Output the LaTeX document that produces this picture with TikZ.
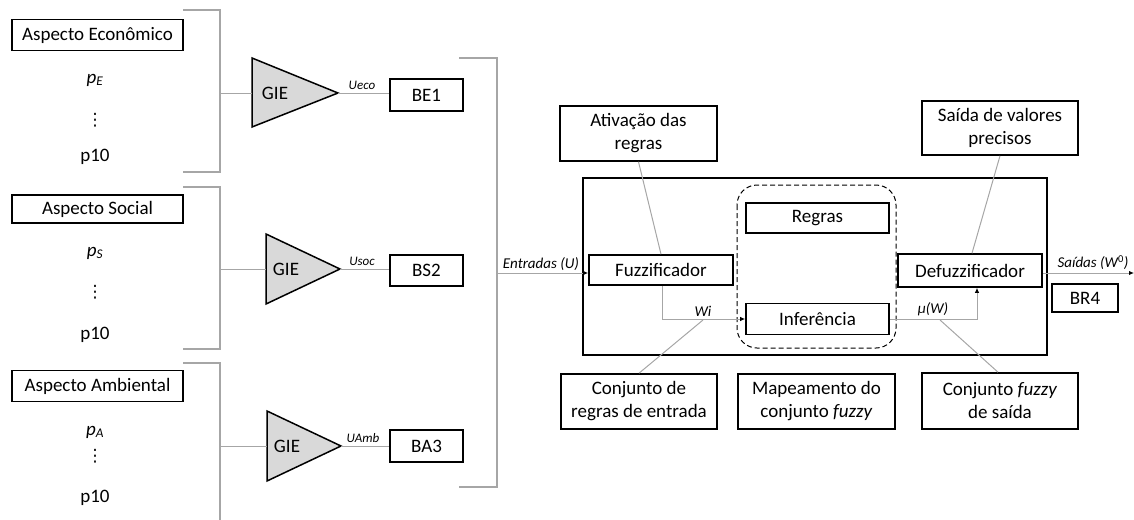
\documentclass[tikz,border=0pt]{standalone}
\usepackage{fontspec}
\setmainfont{Carlito}
\newfontfamily\dejavu{DejaVu Sans}
\usetikzlibrary{arrows.meta}
\definecolor{lg}{HTML}{A6A6A6}
\definecolor{trifill}{HTML}{D9D9D9}
\begin{document}
\begin{tikzpicture}[x=1pt,y=-1pt,
  box/.style={draw=black,line width=1.6pt,inner sep=0pt,align=center,font=\fontsize{19}{23}\selectfont},
  plain/.style={inner sep=0pt,font=\fontsize{19}{23}\selectfont},
  vdts/.style={inner sep=0pt,font=\dejavu\fontsize{17}{17}\selectfont},
  lbl/.style={inner sep=1pt,font=\fontsize{15}{17}\selectfont\itshape},
  slbl/.style={inner sep=1pt,font=\fontsize{13}{15}\selectfont\itshape},
  conn/.style={draw=lg,line width=1pt},
  brk/.style={draw=lg,line width=1.3pt},
  arr/.style={conn,-{Latex[length=5pt,width=4.5pt,color=black]}},
  gie/.style={draw=black,fill=trifill,line width=1.5pt,line join=miter}
]
\useasboundingbox (0,0) rectangle (1134,519);

% ---------- Group E ----------
\node[box,minimum width=171pt,minimum height=31pt] (aspE) at (97.5,35) {Aspecto Econômico};
\node[plain] (pE) at (95,80) {\itshape p\textsubscript{\itshape E}};
\node[vdts] (dE) at (95,120) {⋮};
\node[plain] (p10E) at (95,157) {p10};
\draw[brk] (183,10) -- (220,10) -- (220,172) -- (183,172);
\coordinate (b1) at (220,93);
\draw[gie] (252,58) -- (338,93) coordinate (t1o) -- (252,127) -- cycle;
\coordinate (t1i) at (252,93);
\node[plain] (gie1) at (275,93) {GIE};
\node[box,minimum width=73pt,minimum height=32pt] (be1) at (426.5,95) {BE1};
\draw[conn] (b1) -- (t1i);
\draw[conn] (t1o) -- (t1o -| be1.west);
\node[slbl] (ueco) at (362,85) {Ueco};

% ---------- Group S ----------
\node[box,minimum width=171pt,minimum height=28pt] (aspS) at (97.5,209) {Aspecto Social};
\node[plain] (pS) at (95,253) {\itshape p\textsubscript{\itshape S}};
\node[vdts] (dS) at (95,292) {⋮};
\node[plain] (p10S) at (95,335) {p10};
\draw[brk] (183,187) -- (220,187) -- (220,349) -- (183,349);
\coordinate (b2) at (220,269);
\draw[gie] (266,234) -- (340,269) coordinate (t2o) -- (266,304) -- cycle;
\coordinate (t2i) at (266,269);
\node[plain] (gie2) at (286,269) {GIE};
\node[box,minimum width=73pt,minimum height=31pt] (bs2) at (426.5,270.5) {BS2};
\draw[conn] (b2) -- (t2i);
\draw[conn] (t2o) -- (t2o -| bs2.west);
\node[slbl] (usoc) at (362,261) {Usoc};

% ---------- Group A ----------
\node[box,minimum width=171pt,minimum height=31pt] (aspA) at (97.5,386) {Aspecto Ambiental};
\node[plain] (pA) at (95,432) {\itshape p\textsubscript{\itshape A}};
\node[vdts] (dA) at (95,456) {⋮};
\node[plain] (p10A) at (95,498) {p10};
\draw[brk] (183,363) -- (220,363) -- (220,520);
\coordinate (b3) at (220,446);
\draw[gie] (267,411) -- (341,446) coordinate (t3o) -- (267,481) -- cycle;
\coordinate (t3i) at (267,446);
\node[plain] (gie3) at (287,446) {GIE};
\node[box,minimum width=73pt,minimum height=32pt] (ba3) at (426.5,446) {BA3};
\draw[conn] (b3) -- (t3i);
\draw[conn] (t3o) -- (t3o -| ba3.west);
\node[slbl] (uamb) at (363,438) {UAmb};

% ---------- Big bracket ----------
\draw[brk] (459,58) -- (497,58) -- (497,487) -- (459,487);
\coordinate (bb) at (497,273);

% ---------- Fuzzy system ----------
\draw[line width=1.6pt] (583,178) rectangle (1047,355);
\draw[line width=1pt,dashed,dash pattern=on 5pt off 3pt,rounded corners=20pt] (737,185) rectangle (896,348);
\node[box,minimum width=144pt,minimum height=30pt] (fuzz) at (661,270) {Fuzzificador};
\node[box,minimum width=143pt,minimum height=30pt] (reg) at (817.5,218) {Regras};
\node[box,minimum width=143pt,minimum height=31pt] (inf) at (817.5,319) {Inferência};
\node[box,minimum width=144pt,minimum height=33pt] (defz) at (970,270.5) {Defuzzificador};
\node[box,minimum width=66pt,minimum height=28pt] (br4) at (1085,298) {BR4};

\draw[arr] (bb) -- (bb -| fuzz.west);
\node[lbl] (entr) at (541,264) {Entradas (U)};

\draw[arr] ([xshift=1pt]fuzz.south) |- (inf.west);
\node[lbl] (wi) at (703,311) {Wi};
\coordinate (wiP) at (703,320);

\draw[arr] (inf.east) -| ([xshift=7pt]defz.south);
\node[lbl] (mu) at (933,309) {μ(W)};
\coordinate (muP) at (940,320);

\coordinate (out) at (1134,273);
\draw[arr] (out -| defz.east) -- (out);
\node[lbl] (said) at (1093,263) {Saídas (W\textsuperscript{\upshape 0})};

% ---------- Annotation boxes ----------
\node[box,minimum width=157pt,minimum height=55pt] (act) at (638.5,133.5) {Ativação das\\regras};
\node[box,minimum width=156pt,minimum height=54pt] (sai) at (1000,128) {Saída de valores\\precisos};
\node[box,minimum width=156pt,minimum height=55pt] (cre) at (639,401.5) {Conjunto de\\regras de entrada};
\node[box,minimum width=157pt,minimum height=55pt] (map) at (816.5,401.5) {Mapeamento do\\conjunto \textit{fuzzy}};
\node[box,minimum width=156pt,minimum height=56pt] (cfs) at (1000,401) {Conjunto \textit{fuzzy}\\de saída};

\draw[conn] (act.south) -- (fuzz.north);
\draw[conn] (sai.south) -- ([xshift=2pt]defz.north);
\draw[conn] (cre.north) -- (wiP);
\draw[conn] ([xshift=-2pt]cfs.north) -- (muP);
\end{tikzpicture}
\end{document}
